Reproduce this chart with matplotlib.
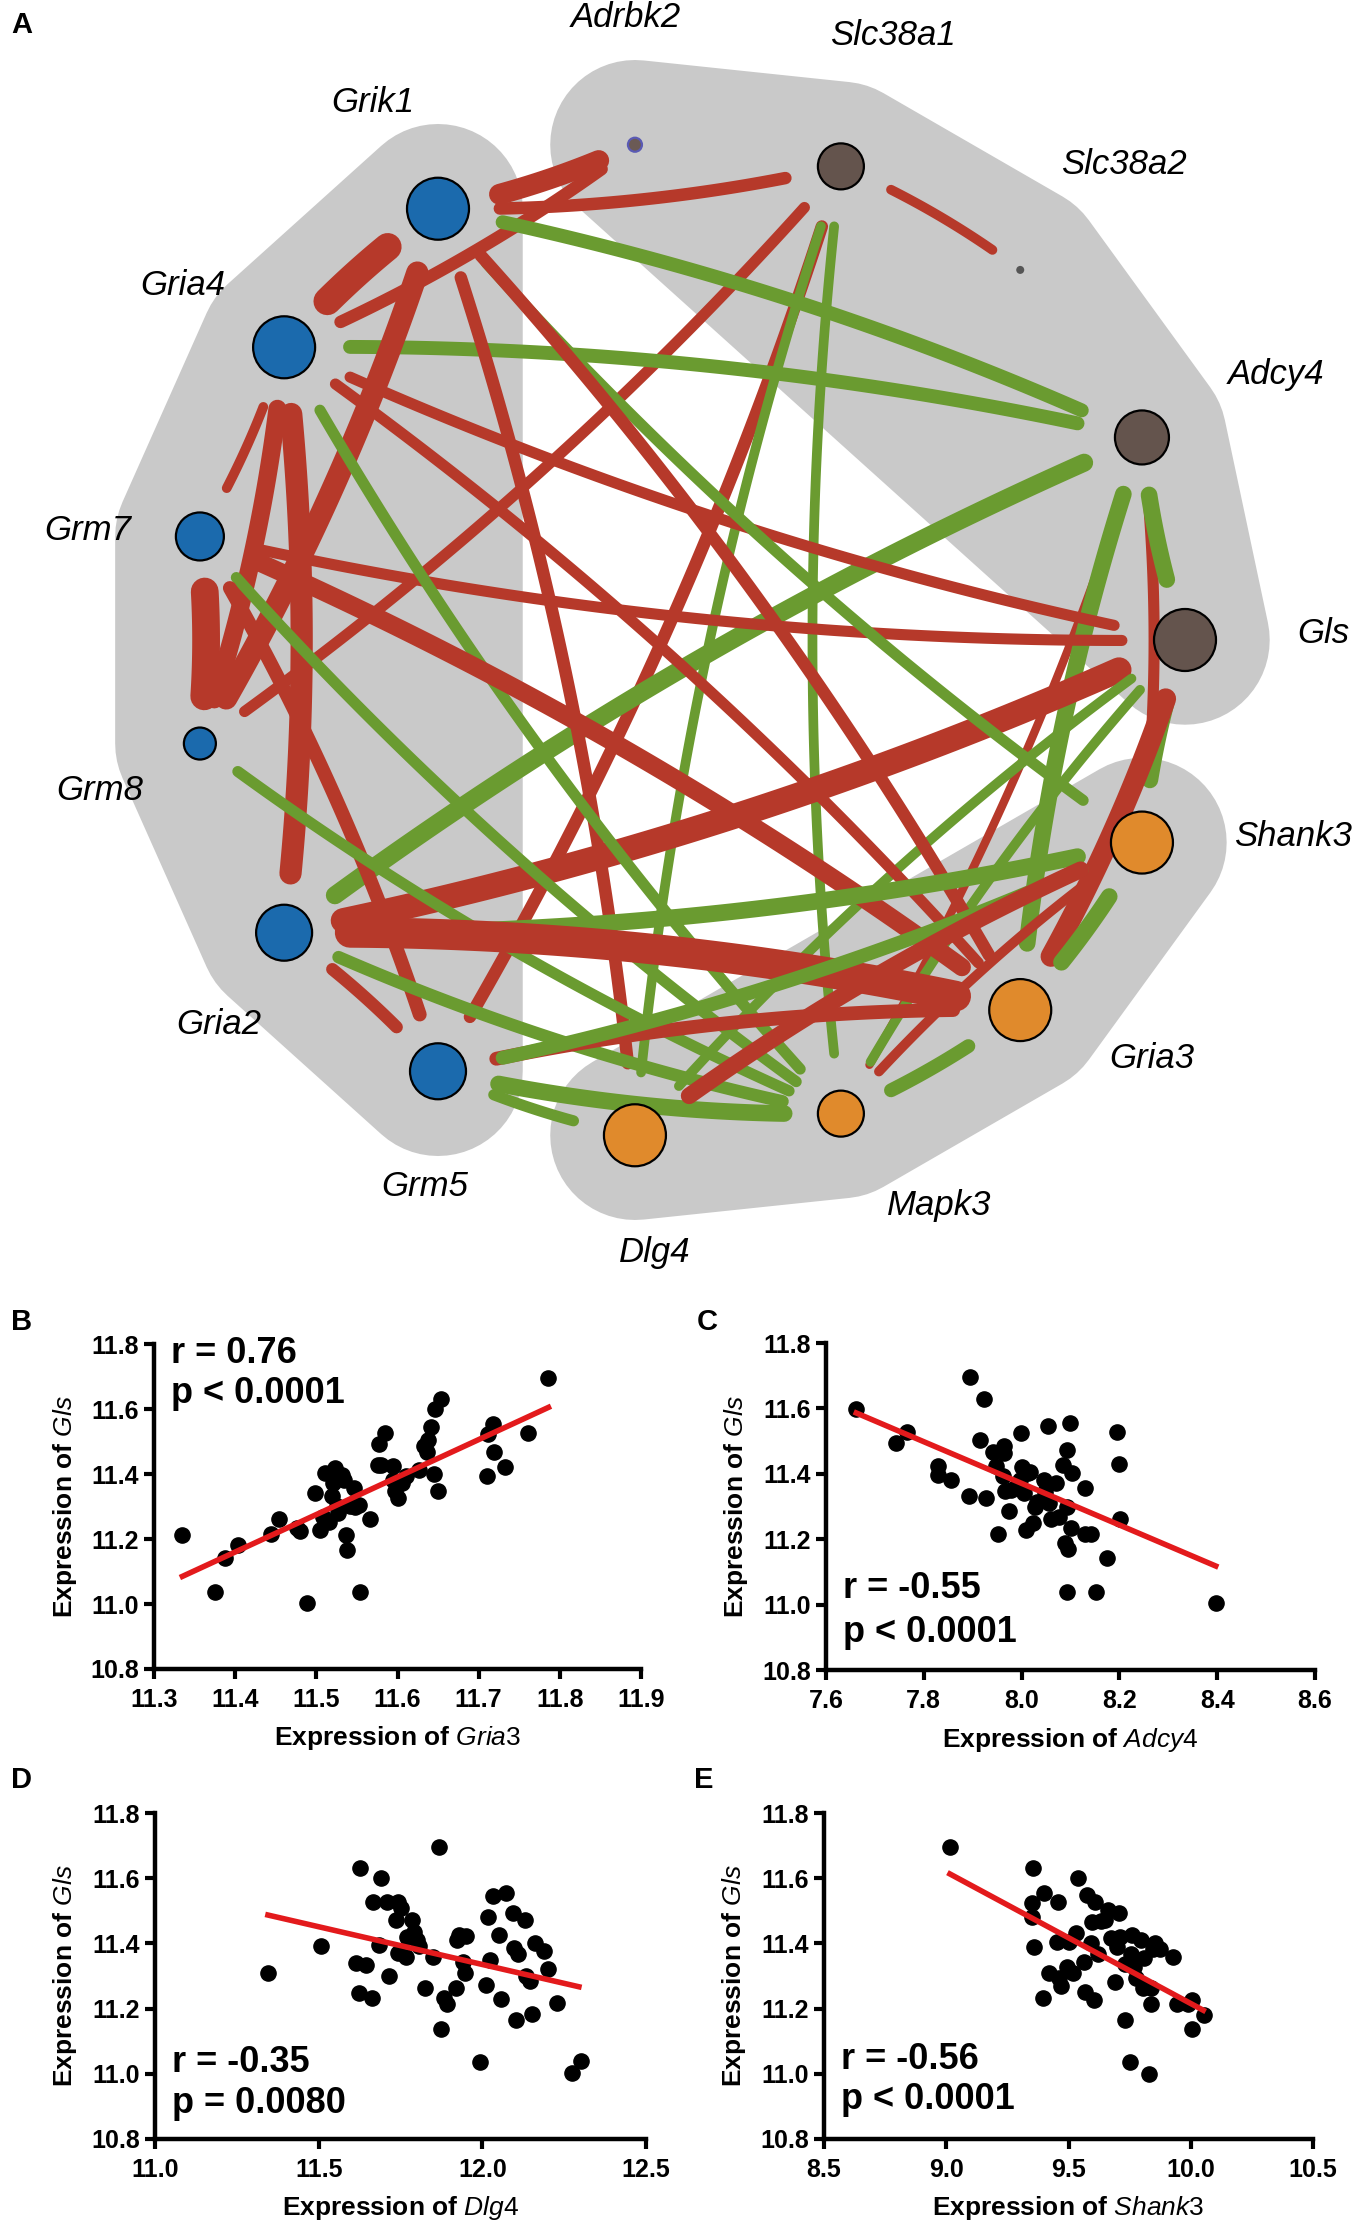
import numpy as np
import matplotlib.pyplot as plt
from matplotlib.patches import Polygon, Circle

plt.rcParams['font.family'] = ['Liberation Sans', 'DejaVu Sans']
plt.rcParams['mathtext.fontset'] = 'custom'
plt.rcParams['mathtext.it'] = 'Liberation Sans:italic'
plt.rcParams['mathtext.rm'] = 'Liberation Sans'
plt.rcParams['mathtext.bf'] = 'Liberation Sans:bold'

# ---------------- network (panel A) ----------------
# genes around the circle, clockwise starting from Gls (3 o'clock)
genes = ["Gls", "Shank3", "Gria3", "Mapk3", "Dlg4", "Grm5", "Gria2", "Grm8",
         "Grm7", "Gria4", "Grik1", "Adrbk2", "Slc38a1", "Slc38a2", "Adcy4"]
geneGroup = ["brown", "orange", "orange", "orange", "orange", "blue", "blue", "blue",
             "blue", "blue", "blue", "adr", "brown", "tiny", "brown"]
nodeRadius = [31, 31, 31, 23, 31, 28, 28, 16, 24, 31, 31, 7, 23, 4, 27]

blueGenes = ["Grm5", "Gria2", "Grm8", "Grm7", "Gria4", "Grik1"]
brownGenes = ["Adrbk2", "Slc38a1", "Slc38a2", "Adcy4", "Gls"]
orangeGenes = ["Shank3", "Gria3", "Mapk3", "Dlg4"]

# label placement (angle shift in degrees, radius relative to the node circle)
labelShift = [-0.6, -6, -6, -6, -3, -4.4, -3.4, -2.4, -1.6, -0.9, -0.3, 0.4, 0.8, 0.6, -0.3]
labelRad = [1.277, 1.28, 1.257, 1.243, 1.231, 1.217, 1.217, 1.217, 1.223, 1.237, 1.251, 1.257, 1.283, 1.297, 1.297]

# edges: from, to, sign (+ red / - green), width
edgeFrom = ["Adrbk2", "Adrbk2", "Slc38a1", "Slc38a1", "Slc38a1", "Slc38a1", "Slc38a1", "Slc38a1",
            "Adcy4", "Adcy4", "Adcy4", "Adcy4", "Adcy4", "Adcy4", "Adcy4",
            "Gls", "Gls", "Gls", "Gls", "Gls", "Gls", "Gls",
            "Grik1", "Grik1", "Grik1", "Grik1", "Gria4", "Gria4", "Gria4", "Gria4", "Gria4", "Gria4",
            "Grm7", "Grm7", "Grm7", "Grm7", "Grm8",
            "Gria2", "Gria2", "Gria2", "Gria2",
            "Grm5", "Grm5", "Grm5", "Grm5",
            "Dlg4", "Mapk3", "Mapk3", "Gria3"]
edgeTo = ["Grik1", "Gria4", "Grik1", "Slc38a2", "Grm8", "Grm5", "Dlg4", "Mapk3",
          "Grik1", "Gria4", "Gria2", "Mapk3", "Gria3", "Shank3", "Gls",
          "Gria4", "Grm7", "Gria2", "Mapk3", "Shank3", "Gria3", "Dlg4",
          "Shank3", "Grm8", "Dlg4", "Gria3", "Grik1", "Gria2", "Grm7", "Mapk3", "Gria3", "Grm8",
          "Gria3", "Mapk3", "Grm5", "Grm8", "Mapk3",
          "Shank3", "Gria3", "Mapk3", "Grm5",
          "Gria3", "Shank3", "Mapk3", "Dlg4",
          "Shank3", "Gria3", "Shank3", "Shank3"]
edgeSign = ["+", "+", "+", "+", "+", "+", "-", "-",
            "-", "-", "-", "+", "-", "+", "-",
            "+", "+", "+", "-", "-", "+", "-",
            "-", "+", "+", "+", "+", "+", "+", "-", "+", "+",
            "+", "-", "+", "+", "-",
            "-", "+", "-", "+",
            "+", "-", "-", "-",
            "+", "-", "+", "-"]
edgeWidth = [15, 9, 9, 7, 8, 9, 7, 7,
             10, 10, 13, 6, 12, 8, 12,
             8, 8, 18, 7, 12, 15, 7,
             8, 16, 9, 9, 20, 16, 7, 8, 8, 13,
             13, 8, 10, 20, 8,
             12, 22, 9, 9,
             10, 10, 12, 8,
             12, 10, 7, 12]

colorMap = {"blue": "#1b6aad", "orange": "#e08a2c", "brown": "#64544d",
            "adr": "#6b5a55", "tiny": "#555555"}
edgeColor = {"+": "#b6392a", "-": "#6a9b30"}
hullColor = "#c9c9c9"

W, H = 1355, 2229
fig = plt.figure(figsize=(W / 100, H / 100), dpi=100)

netH = 1290
axNet = fig.add_axes([0, 1 - netH / H, 1, netH / H])
axNet.set_xlim(0, W)
axNet.set_ylim(netH, 0)
axNet.axis("off")

cx, cy, R = 687, 640, 498
ang = np.deg2rad(np.arange(len(genes)) * 24.0)
pos = {g: np.array([cx + R * np.cos(a), cy + R * np.sin(a)]) for g, a in zip(genes, ang)}
rad = dict(zip(genes, nodeRadius))

# grey rounded hulls behind each group (thick round-joined outline = padding)
for grp in [blueGenes, brownGenes, orangeGenes]:
    pts = np.array([pos[g] for g in grp])
    axNet.add_patch(Polygon(pts, closed=True, fc=hullColor, ec=hullColor, lw=122,
                            joinstyle="round", zorder=1))


def curvaEdge(p0, p2, bend, cutA, cutB, n=80):
    # quadratic bezier, trimmed so it stops before the nodes
    d = p2 - p0
    ctrl = (p0 + p2) / 2 + bend * np.array([d[1], -d[0]])
    t = np.linspace(0, 1, n)[:, None]
    pts = (1 - t) ** 2 * p0 + 2 * (1 - t) * t * ctrl + t ** 2 * p2
    s = np.concatenate([[0], np.cumsum(np.hypot(*np.diff(pts, axis=0).T))])
    keep = (s >= cutA) & (s <= s[-1] - cutB)
    return pts[keep]


for a, b, sg, w in zip(edgeFrom, edgeTo, edgeSign, edgeWidth):
    bend = 0.06 if sg == "+" else -0.06
    pts = curvaEdge(pos[a], pos[b], bend, rad[a] + 30, rad[b] + 30)
    if len(pts) > 1:
        axNet.plot(pts[:, 0], pts[:, 1], color=edgeColor[sg], lw=w,
                   solid_capstyle="round", zorder=2)

for i, g in enumerate(genes):
    grp = geneGroup[i]
    ec = "#5a5ab4" if grp == "adr" else ("none" if grp == "tiny" else "black")
    axNet.add_patch(Circle(pos[g], rad[g], fc=colorMap[grp], ec=ec, lw=1.6, zorder=3))
    la = ang[i] + np.deg2rad(labelShift[i])
    lx = cx + labelRad[i] * R * np.cos(la)
    ly = cy + labelRad[i] * R * np.sin(la)
    axNet.text(lx, ly, g, fontsize=25, style="italic", ha="center", va="center", zorder=4)

# ---------------- scatter panels (B-E) ----------------
gria3X = [11.335, 11.375, 11.388, 11.403, 11.444, 11.454, 11.476, 11.480, 11.489, 11.498,
          11.504, 11.508, 11.511, 11.516, 11.519, 11.521, 11.523, 11.526, 11.527, 11.532,
          11.534, 11.536, 11.538, 11.542, 11.546, 11.548, 11.552, 11.554, 11.566, 11.576,
          11.577, 11.580, 11.585, 11.594, 11.595, 11.597, 11.601, 11.605, 11.610, 11.626,
          11.633, 11.636, 11.638, 11.641, 11.645, 11.646, 11.650, 11.654, 11.710, 11.711,
          11.718, 11.719, 11.733, 11.761, 11.786]
glsB = [11.213, 11.036, 11.142, 11.182, 11.215, 11.263, 11.234, 11.224, 11.003, 11.342,
        11.229, 11.268, 11.403, 11.251, 11.331, 11.372, 11.418, 11.300, 11.280, 11.398,
        11.383, 11.213, 11.167, 11.300, 11.357, 11.298, 11.306, 11.036, 11.262, 11.429,
        11.493, 11.429, 11.526, 11.424, 11.383, 11.347, 11.326, 11.372, 11.393, 11.411,
        11.485, 11.469, 11.506, 11.545, 11.401, 11.600, 11.347, 11.631, 11.393, 11.524,
        11.555, 11.467, 11.422, 11.526, 11.695]
fitB_x = [11.335, 11.786]
fitB_y = [11.085, 11.605]

adcy4X = [7.662, 7.744, 7.766, 7.829, 7.829, 7.856, 7.893, 7.895, 7.915, 7.924,
          7.928, 7.942, 7.948, 7.952, 7.963, 7.963, 7.961, 7.966, 7.974, 7.979,
          7.988, 7.996, 7.999, 8.001, 8.004, 8.010, 8.014, 8.018, 8.023, 8.027,
          8.031, 8.045, 8.048, 8.054, 8.056, 8.060, 8.071, 8.076, 8.085, 8.089,
          8.093, 8.093, 8.093, 8.095, 8.100, 8.102, 8.104, 8.129, 8.130, 8.142,
          8.153, 8.175, 8.195, 8.199, 8.202, 8.397]
glsC = [11.599, 11.494, 11.527, 11.424, 11.395, 11.382, 11.333, 11.695, 11.504, 11.630,
        11.326, 11.468, 11.424, 11.216, 11.484, 11.463, 11.392, 11.346, 11.287, 11.351,
        11.361, 11.382, 11.524, 11.422, 11.341, 11.229, 11.402, 11.407, 11.249, 11.300,
        11.315, 11.382, 11.343, 11.545, 11.312, 11.261, 11.371, 11.269, 11.428, 11.188,
        11.473, 11.297, 11.040, 11.169, 11.555, 11.234, 11.402, 11.356, 11.216, 11.216,
        11.040, 11.142, 11.527, 11.431, 11.262, 11.004]
fitC_x = [7.662, 8.397]
fitC_y = [11.586, 11.118]

dlg4X = [11.345, 11.506, 11.615, 11.622, 11.625, 11.645, 11.662, 11.665, 11.685, 11.689,
         11.709, 11.716, 11.735, 11.742, 11.742, 11.751, 11.767, 11.771, 11.784, 11.792,
         11.800, 11.808, 11.824, 11.848, 11.868, 11.875, 11.884, 11.893, 11.920, 11.924,
         11.928, 11.941, 11.946, 11.950, 11.994, 12.012, 12.016, 12.023, 12.034, 12.052,
         12.056, 12.073, 12.093, 12.097, 12.109, 12.102, 12.130, 12.132, 12.145, 12.153,
         12.162, 12.188, 12.202, 12.228, 12.275, 12.301]
glsD = [11.310, 11.392, 11.341, 11.248, 11.631, 11.333, 11.233, 11.528, 11.395, 11.602,
        11.528, 11.300, 11.472, 11.528, 11.372, 11.508, 11.359, 11.421, 11.472, 11.436,
        11.410, 11.392, 11.262, 11.359, 11.697, 11.138, 11.231, 11.215, 11.262, 11.410,
        11.426, 11.344, 11.308, 11.423, 11.036, 11.272, 11.482, 11.349, 11.546, 11.426,
        11.228, 11.556, 11.492, 11.385, 11.367, 11.166, 11.472, 11.300, 11.285, 11.183,
        11.402, 11.377, 11.323, 11.217, 11.002, 11.038]
fitD_x = [11.345, 12.295]
fitD_y = [11.487, 11.267]

shank3X = [9.015, 9.351, 9.352, 9.355, 9.360, 9.398, 9.395, 9.421, 9.452, 9.457,
           9.460, 9.469, 9.492, 9.504, 9.517, 9.531, 9.540, 9.566, 9.563, 9.575,
           9.593, 9.598, 9.605, 9.607, 9.619, 9.633, 9.651, 9.663, 9.672, 9.689,
           9.698, 9.707, 9.711, 9.733, 9.730, 9.751, 9.760, 9.756, 9.769, 9.778,
           9.795, 9.804, 9.809, 9.830, 9.839, 9.839, 9.844, 9.853, 9.874, 9.927,
           9.944, 9.989, 10.007, 10.007, 10.056]
glsE = [11.695, 11.482, 11.525, 11.631, 11.390, 11.554, 11.233, 11.308, 11.405, 11.528,
        11.295, 11.269, 11.328, 11.405, 11.308, 11.431, 11.600, 11.251, 11.343, 11.549,
        11.400, 11.467, 11.226, 11.528, 11.369, 11.469, 11.472, 11.503, 11.418, 11.282,
        11.390, 11.492, 11.421, 11.164, 11.338, 11.036, 11.426, 11.369, 11.328, 11.295,
        11.410, 11.262, 11.354, 11.000, 11.215, 11.262, 11.382, 11.400, 11.382, 11.357,
        11.215, 11.213, 11.226, 11.138, 11.179]
fitE_x = [9.015, 10.051]
fitE_y = [11.613, 11.195]

panels = [
    # letter, axes box in px (left, right, top, bottom), x data, y data, fit, xticks, gene, r, p, text y
    ("B", (154, 641, 1344, 1669), gria3X, glsB, (fitB_x, fitB_y), np.arange(11.3, 11.95, 0.1),
     "Gria3", "r = 0.76", "p < 0.0001", (0.972, 0.849)),
    ("C", (826, 1315, 1343, 1670), adcy4X, glsC, (fitC_x, fitC_y), np.arange(7.6, 8.65, 0.2),
     "Adcy4", "r = -0.55", "p < 0.0001", (0.25, 0.116)),
    ("D", (155, 646, 1813, 2139), dlg4X, glsD, (fitD_x, fitD_y), np.arange(11.0, 12.55, 0.5),
     "Dlg4", "r = -0.35", "p = 0.0080", (0.236, 0.11)),
    ("E", (824, 1313, 1813, 2139), shank3X, glsE, (fitE_x, fitE_y), np.arange(8.5, 10.55, 0.5),
     "Shank3", "r = -0.56", "p < 0.0001", (0.243, 0.12)),
]

for letter, box, xs, ys, fit, xt, gene, rTxt, pTxt, ty in panels:
    l, r, t, b = box
    ax = fig.add_axes([l / W, 1 - b / H, (r - l) / W, (b - t) / H])
    ax.scatter(xs, ys, s=120, color="black", zorder=3, clip_on=False)
    ax.plot(fit[0], fit[1], color="#e31a1c", lw=4, zorder=4)
    ax.set_xlim(xt[0], xt[-1])
    ax.set_ylim(10.8, 11.8)
    ax.set_xticks(xt)
    ax.set_yticks(np.arange(10.8, 11.85, 0.2))
    ax.xaxis.set_major_formatter(plt.FormatStrFormatter("%.1f"))
    ax.yaxis.set_major_formatter(plt.FormatStrFormatter("%.1f"))
    for s in ["top", "right"]:
        ax.spines[s].set_visible(False)
    for s in ["left", "bottom"]:
        ax.spines[s].set_linewidth(3.2)
    ax.tick_params(width=3, length=7, labelsize=18)
    ax.tick_params(axis="x", pad=7)
    ax.tick_params(axis="y", pad=4)
    for lab in ax.get_xticklabels() + ax.get_yticklabels():
        lab.set_fontweight("bold")
    ax.set_xlabel("Expression of $\\mathit{" + gene + "}$", fontsize=19, fontweight="bold")
    ax.set_ylabel("Expression of $\\mathit{Gls}$", fontsize=19, fontweight="bold")
    ax.xaxis.set_label_coords(0.5, -0.17)
    ax.yaxis.set_label_coords(-0.155, 0.5)
    ax.text(0.035, ty[0], rTxt, transform=ax.transAxes, fontsize=26, fontweight="bold",
            ha="left", va="center")
    ax.text(0.035, ty[1], pTxt, transform=ax.transAxes, fontsize=26, fontweight="bold",
            ha="left", va="center")

# panel letters
for letter, px, py in [("A", 11, 11), ("B", 11, 1308), ("C", 697, 1308), ("D", 11, 1766), ("E", 694, 1766)]:
    fig.text(px / W, 1 - py / H, letter, fontsize=21, fontweight="bold", ha="left", va="top")

fig.savefig("out.png", dpi=100, facecolor="white")
